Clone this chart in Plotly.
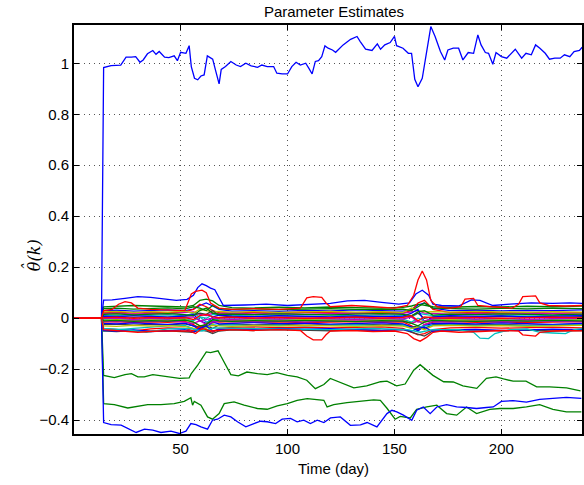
import plotly.graph_objects as go

# ---------------- data ----------------
start_days = [0, 13]
start_vals = [0.0, 0.0]

# top blue parameter (~1)
top_days = [14, 17.5, 22, 24.5, 27, 29, 31, 32.5, 34.5, 37,
            38.5, 40, 42.5, 44.5, 47, 48.5, 50, 52.5, 54, 55,
            56.5, 58, 59.5, 61, 62.5, 65, 66.5, 68, 69, 71,
            73.5, 76, 78, 80.5, 83, 86, 88, 90.5, 93.5, 95,
            97.5, 100, 102, 104, 106, 108.5, 110, 111.5, 113, 114.5,
            116, 117.5, 119, 121, 122.5, 126, 129.5, 132.5, 134, 136.5,
            139.5, 142, 143.5, 145.5, 148, 150, 151, 154, 156.5, 158,
            159.5, 161, 163, 165, 167, 169, 171.5, 173.5, 175, 177.5,
            180, 182, 184.5, 187, 189, 190.5, 192.5, 194, 196, 197.5,
            200, 202.5, 204.5, 206.5, 209.5, 211.5, 214, 216, 218, 220.5,
            222.5, 225, 227.5, 229.5, 232, 234, 236.5, 237.8]
top_vals = [0.983, 0.991, 0.993, 1.024, 1.024, 1.026, 1.004, 1.013, 1.037, 1.050,
            1.035, 1.046, 1.024, 1.022, 1.029, 1.010, 1.043, 1.039, 1.069, 0.987,
            0.941, 0.935, 0.950, 0.954, 1.029, 1.016, 0.967, 0.919, 0.976, 0.987,
            1.007, 0.993, 0.987, 1.000, 0.990, 0.984, 0.993, 0.987, 0.987, 0.961,
            0.958, 0.958, 0.987, 1.004, 0.993, 1.000, 0.980, 0.958, 1.007, 1.010,
            1.026, 1.068, 1.059, 1.052, 1.043, 1.072, 1.094, 1.105, 1.085, 1.055,
            1.050, 1.076, 1.055, 1.072, 1.081, 1.105, 1.069, 1.059, 1.039, 1.039,
            0.937, 0.908, 0.941, 1.052, 1.144, 1.105, 1.046, 1.013, 1.052, 1.059,
            1.059, 1.013, 1.042, 1.039, 1.111, 1.072, 1.042, 1.039, 0.996, 1.042,
            1.026, 1.020, 1.039, 1.055, 1.020, 1.039, 1.033, 1.072, 1.059, 1.039,
            1.016, 1.020, 1.020, 1.033, 1.026, 1.046, 1.050, 1.063]

# green parameter (~ -0.22)
gA_days = [14, 19, 24, 27, 30, 33, 37, 41, 45.5, 49.5,
           54, 55, 58, 62, 64, 67.5, 69, 72, 73.5, 77,
           81, 86, 90.5, 95, 100, 104.5, 109, 113, 117, 120,
           124, 126.5, 131, 137, 143.5, 146.5, 151, 155, 159, 162,
           165, 168, 173, 177.5, 182, 188.5, 193, 197.5, 201, 205.5,
           211.5, 216.5, 222.5, 230.5, 237]
gA_vals = [-0.224, -0.233, -0.221, -0.217, -0.230, -0.230, -0.221, -0.226, -0.230, -0.236,
           -0.234, -0.217, -0.184, -0.132, -0.135, -0.128, -0.151, -0.197, -0.221, -0.226,
           -0.211, -0.217, -0.221, -0.213, -0.224, -0.230, -0.243, -0.276, -0.260, -0.236,
           -0.249, -0.260, -0.273, -0.265, -0.249, -0.247, -0.265, -0.258, -0.204, -0.182,
           -0.204, -0.224, -0.249, -0.250, -0.265, -0.275, -0.236, -0.230, -0.238, -0.247,
           -0.247, -0.269, -0.269, -0.273, -0.285]

# green parameter (~ -0.33)
gB_days = [14, 19, 25.3, 30, 34.6, 40.8, 47, 51.7, 54.8, 55.6,
           56.4, 59.5, 62.6, 64.9, 68, 70.4, 75, 79.7, 85.9, 90.5,
           95.2, 99.9, 104.5, 109.2, 112.3, 117, 118.5, 121.6, 127.8, 134.1,
           140.3, 143.4, 146.5, 150.3, 152.7, 157.4, 160.4, 165.1, 169.8, 174.4,
           179.1, 183.7, 188.4, 194.6, 199.3, 205.5, 211.7, 217.9, 224.1, 230.4,
           237.4]
gB_vals = [-0.335, -0.339, -0.352, -0.344, -0.339, -0.339, -0.335, -0.326, -0.312, -0.341,
           -0.326, -0.341, -0.387, -0.396, -0.374, -0.335, -0.328, -0.341, -0.354, -0.357,
           -0.344, -0.335, -0.322, -0.315, -0.318, -0.322, -0.348, -0.339, -0.331, -0.326,
           -0.320, -0.322, -0.353, -0.396, -0.385, -0.391, -0.357, -0.348, -0.341, -0.374,
           -0.380, -0.348, -0.374, -0.357, -0.354, -0.354, -0.348, -0.339, -0.357, -0.367,
           -0.367]

# blue parameter (~ -0.41)
bl_days = [14, 17.5, 22.2, 25.3, 29.2, 33.1, 37, 40.8, 45.5, 49.4,
           52.5, 54.8, 57.2, 59.5, 62.6, 64.9, 67.3, 70.4, 73.5, 76.6,
           80.5, 84.3, 87.4, 90.5, 94.4, 97.5, 101.4, 104.5, 107.6, 110.7,
           113.9, 117, 120.1, 124.7, 129.4, 134.1, 137.2, 141.8, 144.1, 146.5,
           148.8, 151.1, 154.2, 158.1, 160.4, 163.5, 166.7, 169.8, 174.4, 179.1,
           183.7, 188.4, 193, 196.2, 200, 205.5, 211.7, 217.9, 224.1, 230.4,
           237.4]
bl_vals = [-0.409, -0.417, -0.419, -0.433, -0.448, -0.435, -0.439, -0.448, -0.443, -0.452,
           -0.443, -0.413, -0.417, -0.426, -0.435, -0.400, -0.396, -0.380, -0.387, -0.406,
           -0.426, -0.413, -0.404, -0.406, -0.413, -0.396, -0.393, -0.406, -0.400, -0.413,
           -0.400, -0.409, -0.391, -0.387, -0.420, -0.418, -0.409, -0.426, -0.400, -0.374,
           -0.361, -0.367, -0.380, -0.400, -0.361, -0.348, -0.374, -0.348, -0.339, -0.348,
           -0.350, -0.354, -0.350, -0.348, -0.326, -0.323, -0.329, -0.318, -0.314, -0.310,
           -0.314]

# blue upper edge of the small-parameter band
bu_days = [14, 18, 24, 30, 36, 42, 48, 53, 56, 58,
           60, 62, 64, 66, 68, 70, 80, 90, 100, 110,
           120, 128, 136, 144, 152, 157, 160, 163, 166, 168,
           172, 180, 186, 190, 196, 204, 214, 224, 232, 238]
bu_vals = [0.071, 0.072, 0.078, 0.085, 0.082, 0.076, 0.070, 0.074, 0.090, 0.120,
           0.135, 0.128, 0.118, 0.112, 0.080, 0.050, 0.052, 0.055, 0.050, 0.053,
           0.058, 0.068, 0.070, 0.062, 0.055, 0.060, 0.095, 0.110, 0.090, 0.055,
           0.050, 0.048, 0.072, 0.070, 0.050, 0.055, 0.060, 0.058, 0.060, 0.058]

# red upper (with spikes)
rt_days = [14, 18, 21, 24, 27, 30, 36, 44, 52, 55,
           57, 60, 62, 64, 68, 74, 84, 96, 106, 109,
           112, 116, 118, 120, 130, 140, 150, 156, 159, 161,
           163, 165, 167, 170, 176, 181, 183, 187, 189, 195,
           205, 208, 210, 216, 218, 222, 230, 238]
rt_vals = [0.030, 0.035, 0.055, 0.065, 0.060, 0.040, 0.035, 0.032, 0.030, 0.095,
           0.105, 0.110, 0.100, 0.060, 0.040, 0.035, 0.038, 0.035, 0.040, 0.080,
           0.085, 0.082, 0.060, 0.045, 0.050, 0.045, 0.040, 0.050, 0.090, 0.150,
           0.185, 0.150, 0.070, 0.045, 0.040, 0.045, 0.075, 0.078, 0.050, 0.045,
           0.040, 0.055, 0.085, 0.088, 0.060, 0.050, 0.048, 0.050]

# red lower (with dips)
rb_days = [14, 20, 30, 40, 50, 54, 57, 60, 64, 68,
           74, 84, 96, 106, 109, 112, 116, 118, 120, 130,
           140, 150, 156, 159, 162, 165, 168, 172, 180, 190,
           200, 208, 210, 216, 218, 224, 232, 238]
rb_vals = [-0.045, -0.048, -0.055, -0.050, -0.048, -0.050, -0.060, -0.040, -0.050, -0.048,
           -0.045, -0.048, -0.045, -0.048, -0.070, -0.085, -0.085, -0.065, -0.050, -0.048,
           -0.052, -0.050, -0.060, -0.080, -0.090, -0.075, -0.055, -0.050, -0.055, -0.052,
           -0.048, -0.050, -0.065, -0.070, -0.055, -0.050, -0.048, -0.050]

# cyan lower (with dips)
cb_days = [14, 24, 34, 44, 54, 60, 66, 80, 100, 120,
           140, 156, 162, 168, 180, 187, 190, 194, 197, 204,
           212, 218, 224, 230, 234, 238]
cb_vals = [-0.040, -0.045, -0.055, -0.042, -0.040, -0.050, -0.038, -0.040, -0.042, -0.045,
           -0.040, -0.045, -0.055, -0.045, -0.045, -0.055, -0.078, -0.080, -0.060, -0.045,
           -0.042, -0.055, -0.058, -0.060, -0.045, -0.040]

# small parameters, sampled on a common day grid
band_days = [14, 20, 28, 36, 44, 52, 56, 59, 62, 65,
             68, 74, 84, 96, 108, 120, 132, 144, 154, 158,
             161, 164, 168, 176, 188, 200, 212, 224, 238]
b1 = [0.030, 0.032, 0.028, 0.030, 0.033, 0.030, 0.036, 0.050, 0.060, 0.048, 0.035, 0.028, 0.030, 0.027, 0.031, 0.029, 0.033, 0.030, 0.028, 0.034, 0.052, 0.060, 0.040, 0.030, 0.032, 0.029, 0.031, 0.030, 0.033]
b2 = [0.008, 0.006, 0.010, 0.007, 0.004, 0.009, 0.015, -0.010, -0.020, 0.005, 0.012, 0.008, 0.006, 0.010, 0.007, 0.005, 0.009, 0.006, 0.008, 0.020, 0.035, -0.015, 0.004, 0.010, 0.007, 0.009, 0.005, 0.008, 0.010]
b3 = [-0.020, -0.022, -0.018, -0.021, -0.024, -0.019, -0.030, -0.045, -0.035, -0.015, -0.022, -0.020, -0.017, -0.021, -0.019, -0.023, -0.020, -0.018, -0.022, -0.035, -0.050, -0.030, -0.020, -0.019, -0.022, -0.018, -0.021, -0.024, -0.020]
b4 = [-0.048, -0.050, -0.046, -0.052, -0.049, -0.045, -0.055, -0.040, -0.030, -0.050, -0.045, -0.042, -0.044, -0.040, -0.043, -0.041, -0.045, -0.048, -0.044, -0.050, -0.040, -0.035, -0.052, -0.046, -0.044, -0.048, -0.046, -0.043, -0.045]
g1 = [0.045, 0.047, 0.050, 0.048, 0.046, 0.044, 0.050, 0.070, 0.075, 0.068, 0.050, 0.042, 0.040, 0.043, 0.041, 0.044, 0.042, 0.040, 0.043, 0.048, 0.055, 0.050, 0.045, 0.043, 0.046, 0.044, 0.047, 0.045, 0.048]
g2 = [0.038, 0.040, 0.036, 0.039, 0.041, 0.037, 0.045, 0.040, 0.030, 0.050, 0.038, 0.035, 0.037, 0.034, 0.036, 0.038, 0.035, 0.037, 0.036, 0.030, 0.045, 0.060, 0.040, 0.038, 0.036, 0.039, 0.037, 0.040, 0.038]
g3 = [0.015, 0.017, 0.013, 0.016, 0.018, 0.014, 0.010, 0.030, 0.040, 0.020, 0.015, 0.016, 0.014, 0.017, 0.015, 0.013, 0.016, 0.018, 0.015, 0.010, 0.025, 0.030, 0.012, 0.016, 0.014, 0.017, 0.015, 0.013, 0.016]
g4 = [-0.010, -0.008, -0.012, -0.009, -0.011, -0.007, -0.015, -0.030, -0.025, -0.005, -0.010, -0.012, -0.009, -0.011, -0.008, -0.010, -0.013, -0.009, -0.011, -0.020, -0.030, -0.015, -0.008, -0.010, -0.012, -0.009, -0.011, -0.008, -0.010]
r1 = [0.022, 0.024, 0.020, 0.023, 0.021, 0.025, 0.035, 0.055, 0.045, 0.030, 0.022, 0.020, 0.023, 0.021, 0.024, 0.022, 0.020, 0.023, 0.021, 0.030, 0.060, 0.070, 0.035, 0.022, 0.024, 0.021, 0.023, 0.020, 0.022]
r2 = [0.002, 0.004, 0.000, 0.003, 0.001, 0.002, -0.005, 0.010, 0.015, 0.005, 0.002, 0.004, 0.001, 0.003, 0.000, 0.002, 0.004, 0.001, 0.003, 0.010, -0.010, 0.005, 0.002, 0.001, 0.003, 0.000, 0.002, 0.004, 0.001]
r3 = [-0.015, -0.013, -0.017, -0.014, -0.016, -0.012, -0.025, -0.040, -0.020, -0.010, -0.015, -0.013, -0.016, -0.014, -0.017, -0.015, -0.013, -0.016, -0.014, -0.030, -0.045, -0.025, -0.015, -0.013, -0.016, -0.014, -0.017, -0.015, -0.013]
r4 = [-0.040, -0.045, -0.050, -0.042, -0.038, -0.040, -0.050, -0.030, -0.045, -0.055, -0.040, -0.036, -0.034, -0.037, -0.035, -0.038, -0.036, -0.034, -0.040, -0.055, -0.065, -0.060, -0.045, -0.038, -0.036, -0.039, -0.037, -0.035, -0.038]
c1 = [0.012, 0.010, 0.014, 0.011, 0.013, 0.009, 0.020, 0.005, 0.000, 0.015, 0.012, 0.010, 0.013, 0.011, 0.014, 0.012, 0.010, 0.013, 0.011, 0.005, 0.020, 0.015, 0.010, 0.012, 0.014, 0.011, 0.013, 0.010, 0.012]
c2 = [-0.005, -0.003, -0.007, -0.004, -0.006, -0.002, -0.010, 0.005, -0.015, -0.008, -0.005, -0.003, -0.006, -0.004, -0.007, -0.005, -0.003, -0.006, -0.004, -0.015, 0.000, -0.010, -0.005, -0.004, -0.006, -0.003, -0.005, -0.007, -0.004]
c3 = [-0.050, -0.045, -0.040, -0.035, -0.030, -0.028, -0.040, -0.050, -0.035, -0.025, -0.028, -0.026, -0.029, -0.027, -0.030, -0.028, -0.026, -0.029, -0.027, -0.040, -0.035, -0.030, -0.028, -0.026, -0.029, -0.027, -0.030, -0.028, -0.026]
m1 = [0.018, 0.020, 0.016, 0.019, 0.017, 0.021, 0.025, 0.015, 0.010, 0.020, 0.018, 0.020, 0.017, 0.019, 0.016, 0.018, 0.020, 0.017, 0.019, 0.025, 0.030, 0.020, 0.018, 0.016, 0.019, 0.017, 0.020, 0.018, 0.016]
m2 = [-0.002, 0.000, -0.004, -0.001, -0.003, 0.001, 0.005, -0.010, -0.005, 0.000, -0.002, -0.004, -0.001, -0.003, 0.000, -0.002, -0.004, -0.001, -0.003, 0.005, -0.015, -0.010, -0.002, 0.000, -0.003, -0.001, -0.004, -0.002, 0.000]
m3 = [-0.012, -0.014, -0.010, -0.013, -0.011, -0.015, -0.020, -0.010, -0.025, -0.015, -0.012, -0.010, -0.013, -0.011, -0.014, -0.012, -0.010, -0.013, -0.011, -0.020, -0.010, -0.025, -0.012, -0.014, -0.011, -0.013, -0.010, -0.012, -0.014]
y1 = [0.025, 0.027, 0.023, 0.026, 0.024, 0.028, 0.020, 0.035, 0.030, 0.025, 0.027, 0.024, 0.026, 0.023, 0.025, 0.027, 0.024, 0.026, 0.023, 0.040, 0.030, 0.025, 0.026, 0.024, 0.027, 0.025, 0.023, 0.026, 0.024]
y2 = [-0.008, -0.006, -0.010, -0.007, -0.009, -0.005, -0.015, -0.030, -0.040, -0.020, -0.008, -0.010, -0.007, -0.009, -0.006, -0.008, -0.010, -0.007, -0.009, -0.020, -0.010, -0.015, -0.008, -0.006, -0.009, -0.007, -0.010, -0.008, -0.006]
y3 = [-0.030, -0.032, -0.028, -0.031, -0.029, -0.033, -0.040, -0.048, -0.035, -0.028, -0.030, -0.032, -0.029, -0.031, -0.028, -0.030, -0.032, -0.029, -0.031, -0.040, -0.035, -0.045, -0.030, -0.028, -0.031, -0.029, -0.032, -0.030, -0.028]
k1 = [0.005, 0.007, 0.003, 0.006, 0.004, 0.008, 0.010, 0.020, 0.015, 0.030, 0.010, 0.005, 0.007, 0.004, 0.006, 0.003, 0.005, 0.007, 0.004, 0.010, 0.020, 0.000, 0.005, 0.006, 0.004, 0.007, 0.005, 0.003, 0.006]
k2 = [-0.025, -0.023, -0.027, -0.024, -0.026, -0.022, -0.030, -0.035, -0.028, -0.040, -0.025, -0.023, -0.026, -0.024, -0.027, -0.025, -0.023, -0.026, -0.024, -0.035, -0.030, -0.040, -0.025, -0.023, -0.026, -0.024, -0.027, -0.025, -0.023]
k3 = [-0.050, -0.052, -0.048, -0.051, -0.049, -0.053, -0.055, -0.045, -0.050, -0.060, -0.050, -0.046, -0.048, -0.045, -0.047, -0.049, -0.046, -0.048, -0.045, -0.055, -0.065, -0.070, -0.050, -0.048, -0.046, -0.049, -0.047, -0.050, -0.048]

y_tick_vals = [-0.4, -0.2, 0, 0.2, 0.4, 0.6, 0.8, 1.0]
y_tick_text = ["\u22120.4", "\u22120.2", "0", "0.2", "0.4", "0.6", "0.8", "1"]
x_tick_vals = [50, 100, 150, 200]

# ---------------- styling ----------------
BLUE, GREEN, RED = "#0000ff", "#008000", "#ff0000"
CYAN, MAGENTA, YELLOW, GRAY = "#00bfbf", "#bf00bf", "#bfbf00", "#404040"
FONT = "Liberation Sans, Arial, Helvetica, sans-serif"
LW = 1.3

fig = go.Figure()


def add(days, vals, color):
    fig.add_trace(go.Scatter(x=start_days + days, y=start_vals + vals, mode="lines",
                             line=dict(color=color, width=LW), showlegend=False,
                             hoverinfo="skip"))


add(top_days, top_vals, BLUE)
add(gA_days, gA_vals, GREEN)
add(gB_days, gB_vals, GREEN)
add(bl_days, bl_vals, BLUE)

band = [(b1, BLUE), (g1, GREEN), (r1, RED), (c1, CYAN), (m1, MAGENTA), (y1, YELLOW), (k1, GRAY),
        (b2, BLUE), (g2, GREEN), (r3, RED), (c2, CYAN), (m2, MAGENTA), (y2, YELLOW), (k2, GRAY),
        (b3, BLUE), (g3, GREEN), (r4, RED), (c3, CYAN), (m3, MAGENTA), (y3, YELLOW), (k3, GRAY),
        (b4, BLUE), (g4, GREEN)]
for vals, col in band:
    add(band_days, vals, col)

add(bu_days, bu_vals, BLUE)
add(cb_days, cb_vals, CYAN)
add(rb_days, rb_vals, RED)
add(rt_days, rt_vals, RED)
add(band_days, r2, RED)

axis_common = dict(
    showline=True, linecolor="black", linewidth=2, mirror="ticks",
    ticks="inside", ticklen=5, tickwidth=1, tickcolor="black",
    showgrid=True, gridcolor="#555555", gridwidth=1, griddash="1px,4px",
    zeroline=False, tickfont=dict(family=FONT, size=15, color="black"),
)

LABEL_FONT = dict(family="DejaVu Serif, serif", size=16, color="black", style="italic")

fig.update_layout(
    width=584, height=485,
    margin=dict(l=74, r=0, t=25, b=51),
    paper_bgcolor="white", plot_bgcolor="white",
    xaxis=dict(range=[0.15, 237.7], tickvals=x_tick_vals, **axis_common),
    yaxis=dict(range=[-0.454, 1.150], tickvals=y_tick_vals, ticktext=y_tick_text, **axis_common),
    title=dict(text="Parameter Estimates", x=(335 - 74) / 510, xref="paper", xanchor="center",
               y=1 - 12 / 485, yref="container", yanchor="middle",
               font=dict(family=FONT, size=15, color="black")),
    showlegend=False,
    annotations=[
        dict(text="Time (day)", x=(335 - 74) / 510, xref="paper", y=-34 / 409, yref="paper",
             xanchor="center", yanchor="middle", showarrow=False,
             font=dict(family=FONT, size=15, color="black")),
        dict(text="\u03b8(k)", x=-40 / 510, xref="paper", y=(434 - 255) / 409,
             yref="paper", xanchor="center", yanchor="middle", showarrow=False, textangle=-90,
             font=LABEL_FONT),
        dict(text="\u02c6", x=-46 / 510, xref="paper", y=(434 - 267) / 409,
             yref="paper", xanchor="center", yanchor="middle", showarrow=False, textangle=-90,
             font=LABEL_FONT),
    ],
)

fig.write_html("out.html")
